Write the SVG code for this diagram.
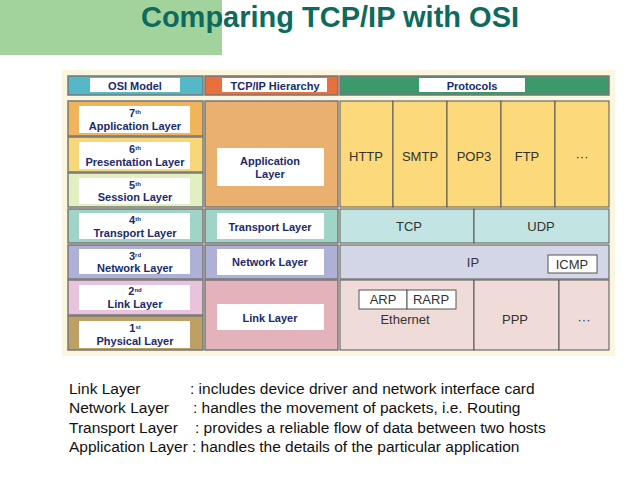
<svg xmlns="http://www.w3.org/2000/svg" width="638" height="479" viewBox="0 0 638 479">
<style>
.b{font-family:"Liberation Sans",Arial,sans-serif;font-weight:bold;fill:#1a2a6e;font-size:11px;text-anchor:middle}
.s{font-size:6px}
.p{font-family:"Liberation Sans",Arial,sans-serif;fill:#333;font-size:13px;text-anchor:middle}
.c{stroke:#777;stroke-width:1.5}
.w{fill:#fff}
.t{font-family:"Liberation Sans",Arial,sans-serif;font-size:15.5px;fill:#111}
</style>
<rect width="638" height="479" fill="#fff"/>
<rect x="0" y="0" width="222" height="55" fill="#a3d39c"/>
<text x="330" y="27" font-family="Liberation Sans,Arial,sans-serif" font-weight="bold" font-size="29" fill="#0e6a5d" text-anchor="middle">Comparing TCP/IP with OSI</text>
<rect x="62" y="70" width="553" height="286" fill="#fbf6e0"/>
<g id="headers">
<rect class="c" x="68" y="76" width="135" height="19" fill="#55b8c6"/><rect class="w" x="90" y="78" width="90" height="14"/><text class="b" x="135" y="90">OSI Model</text>
<rect class="c" x="205" y="76" width="133" height="19" fill="#e86f3e"/><rect class="w" x="222" y="78" width="105" height="14"/><text class="b" x="275" y="90">TCP/IP Hierarchy</text>
<rect class="c" x="340" y="76" width="269" height="19" fill="#3c9a6a"/><rect class="w" x="419" y="78" width="106" height="14"/><text class="b" x="472" y="90">Protocols</text>
</g>
<g id="osi">
<rect class="c" x="68" y="101" width="135" height="35" fill="#f0b45a"/><rect class="w" x="79" y="106" width="111" height="27"/><text class="b" x="135" y="117">7<tspan class="s" dy="-3">th</tspan></text><text class="b" x="135" y="130">Application Layer</text>
<rect class="c" x="68" y="137" width="135" height="35" fill="#f7d77a"/><rect class="w" x="79" y="142" width="111" height="27"/><text class="b" x="135" y="153">6<tspan class="s" dy="-3">th</tspan></text><text class="b" x="135" y="166">Presentation Layer</text>
<rect class="c" x="68" y="173" width="135" height="34" fill="#e2efc0"/><rect class="w" x="79" y="178" width="111" height="26"/><text class="b" x="135" y="189">5<tspan class="s" dy="-3">th</tspan></text><text class="b" x="135" y="201">Session Layer</text>
<rect class="c" x="68" y="209" width="135" height="34" fill="#9fd4c6"/><rect class="w" x="79" y="213" width="111" height="26"/><text class="b" x="135" y="224">4<tspan class="s" dy="-3">th</tspan></text><text class="b" x="135" y="237">Transport Layer</text>
<rect class="c" x="68" y="245" width="135" height="34" fill="#aeb0d6"/><rect class="w" x="79" y="249" width="111" height="25"/><text class="b" x="135" y="260">3<tspan class="s" dy="-3">rd</tspan></text><text class="b" x="135" y="272">Network Layer</text>
<rect class="c" x="68" y="280" width="135" height="35" fill="#e8c4dc"/><rect class="w" x="79" y="285" width="111" height="25"/><text class="b" x="135" y="295">2<tspan class="s" dy="-3">nd</tspan></text><text class="b" x="135" y="308">Link Layer</text>
<rect class="c" x="68" y="316" width="135" height="34" fill="#bfa064"/><rect class="w" x="79" y="321" width="111" height="27"/><text class="b" x="135" y="332">1<tspan class="s" dy="-3">st</tspan></text><text class="b" x="135" y="345">Physical Layer</text>
</g>
<g id="tcpip">
<rect class="c" x="205" y="101" width="133" height="106" fill="#e9b070"/><rect class="w" x="217" y="148" width="107" height="38"/><text class="b" x="270" y="165">Application</text><text class="b" x="270" y="178">Layer</text>
<rect class="c" x="205" y="209" width="133" height="34" fill="#9fd4c6"/><rect class="w" x="217" y="213" width="107" height="26"/><text class="b" x="270" y="231">Transport Layer</text>
<rect class="c" x="205" y="245" width="133" height="34" fill="#aeb0d6"/><rect class="w" x="217" y="249" width="107" height="26"/><text class="b" x="270" y="266">Network Layer</text>
<rect class="c" x="205" y="280" width="133" height="70" fill="#e4b2bb"/><rect class="w" x="217" y="304" width="107" height="26"/><text class="b" x="270" y="322">Link Layer</text>
</g>
<g id="protocols" stroke="#555" stroke-width="1">
<rect x="340" y="101" width="53" height="106" fill="#fcd97a"/><text class="p" x="366" y="161" stroke="none">HTTP</text>
<rect x="393" y="101" width="54" height="106" fill="#fcd97a"/><text class="p" x="420" y="161" stroke="none">SMTP</text>
<rect x="447" y="101" width="54" height="106" fill="#fcd97a"/><text class="p" x="474" y="161" stroke="none">POP3</text>
<rect x="501" y="101" width="54" height="106" fill="#fcd97a"/><text class="p" x="527" y="161" stroke="none">FTP</text>
<rect x="555" y="101" width="54" height="106" fill="#fcd97a"/><text class="p" x="582" y="161" stroke="none">···</text>
<rect x="340" y="209" width="134" height="34" fill="#c2e5e3"/><text class="p" x="409" y="231" stroke="none">TCP</text>
<rect x="474" y="209" width="135" height="34" fill="#c2e5e3"/><text class="p" x="541" y="231" stroke="none">UDP</text>
<rect x="340" y="245" width="269" height="34" fill="#d3d6e6"/><text class="p" x="473" y="267" stroke="none">IP</text>
<rect x="548" y="255" width="49" height="18" fill="#fff"/><text class="p" x="572" y="269" stroke="none">ICMP</text>
<rect x="340" y="280" width="134" height="70" fill="#efdcd8"/>
<rect x="359" y="290" width="48" height="19" fill="#fff"/><text class="p" x="383" y="304" stroke="none">ARP</text>
<rect x="407" y="290" width="49" height="19" fill="#fff"/><text class="p" x="431" y="304" stroke="none">RARP</text>
<text class="p" x="405" y="324" stroke="none">Ethernet</text>
<rect x="474" y="280" width="85" height="70" fill="#efdcd8"/><text class="p" x="515" y="324" stroke="none">PPP</text>
<rect x="559" y="280" width="50" height="70" fill="#efdcd8"/><text class="p" x="584" y="324" stroke="none">···</text>
</g>
<g id="notes">
<text class="t" x="69" y="394">Link Layer</text><text class="t" x="190" y="394">: includes device driver and network interface card</text>
<text class="t" x="69" y="413">Network Layer</text><text class="t" x="193" y="413">: handles the movement of packets, i.e. Routing</text>
<text class="t" x="69" y="433">Transport Layer</text><text class="t" x="195" y="433">: provides a reliable flow of data between two hosts</text>
<text class="t" x="69" y="452">Application Layer</text><text class="t" x="192" y="452">: handles the details of the particular application</text>
</g>
</svg>
